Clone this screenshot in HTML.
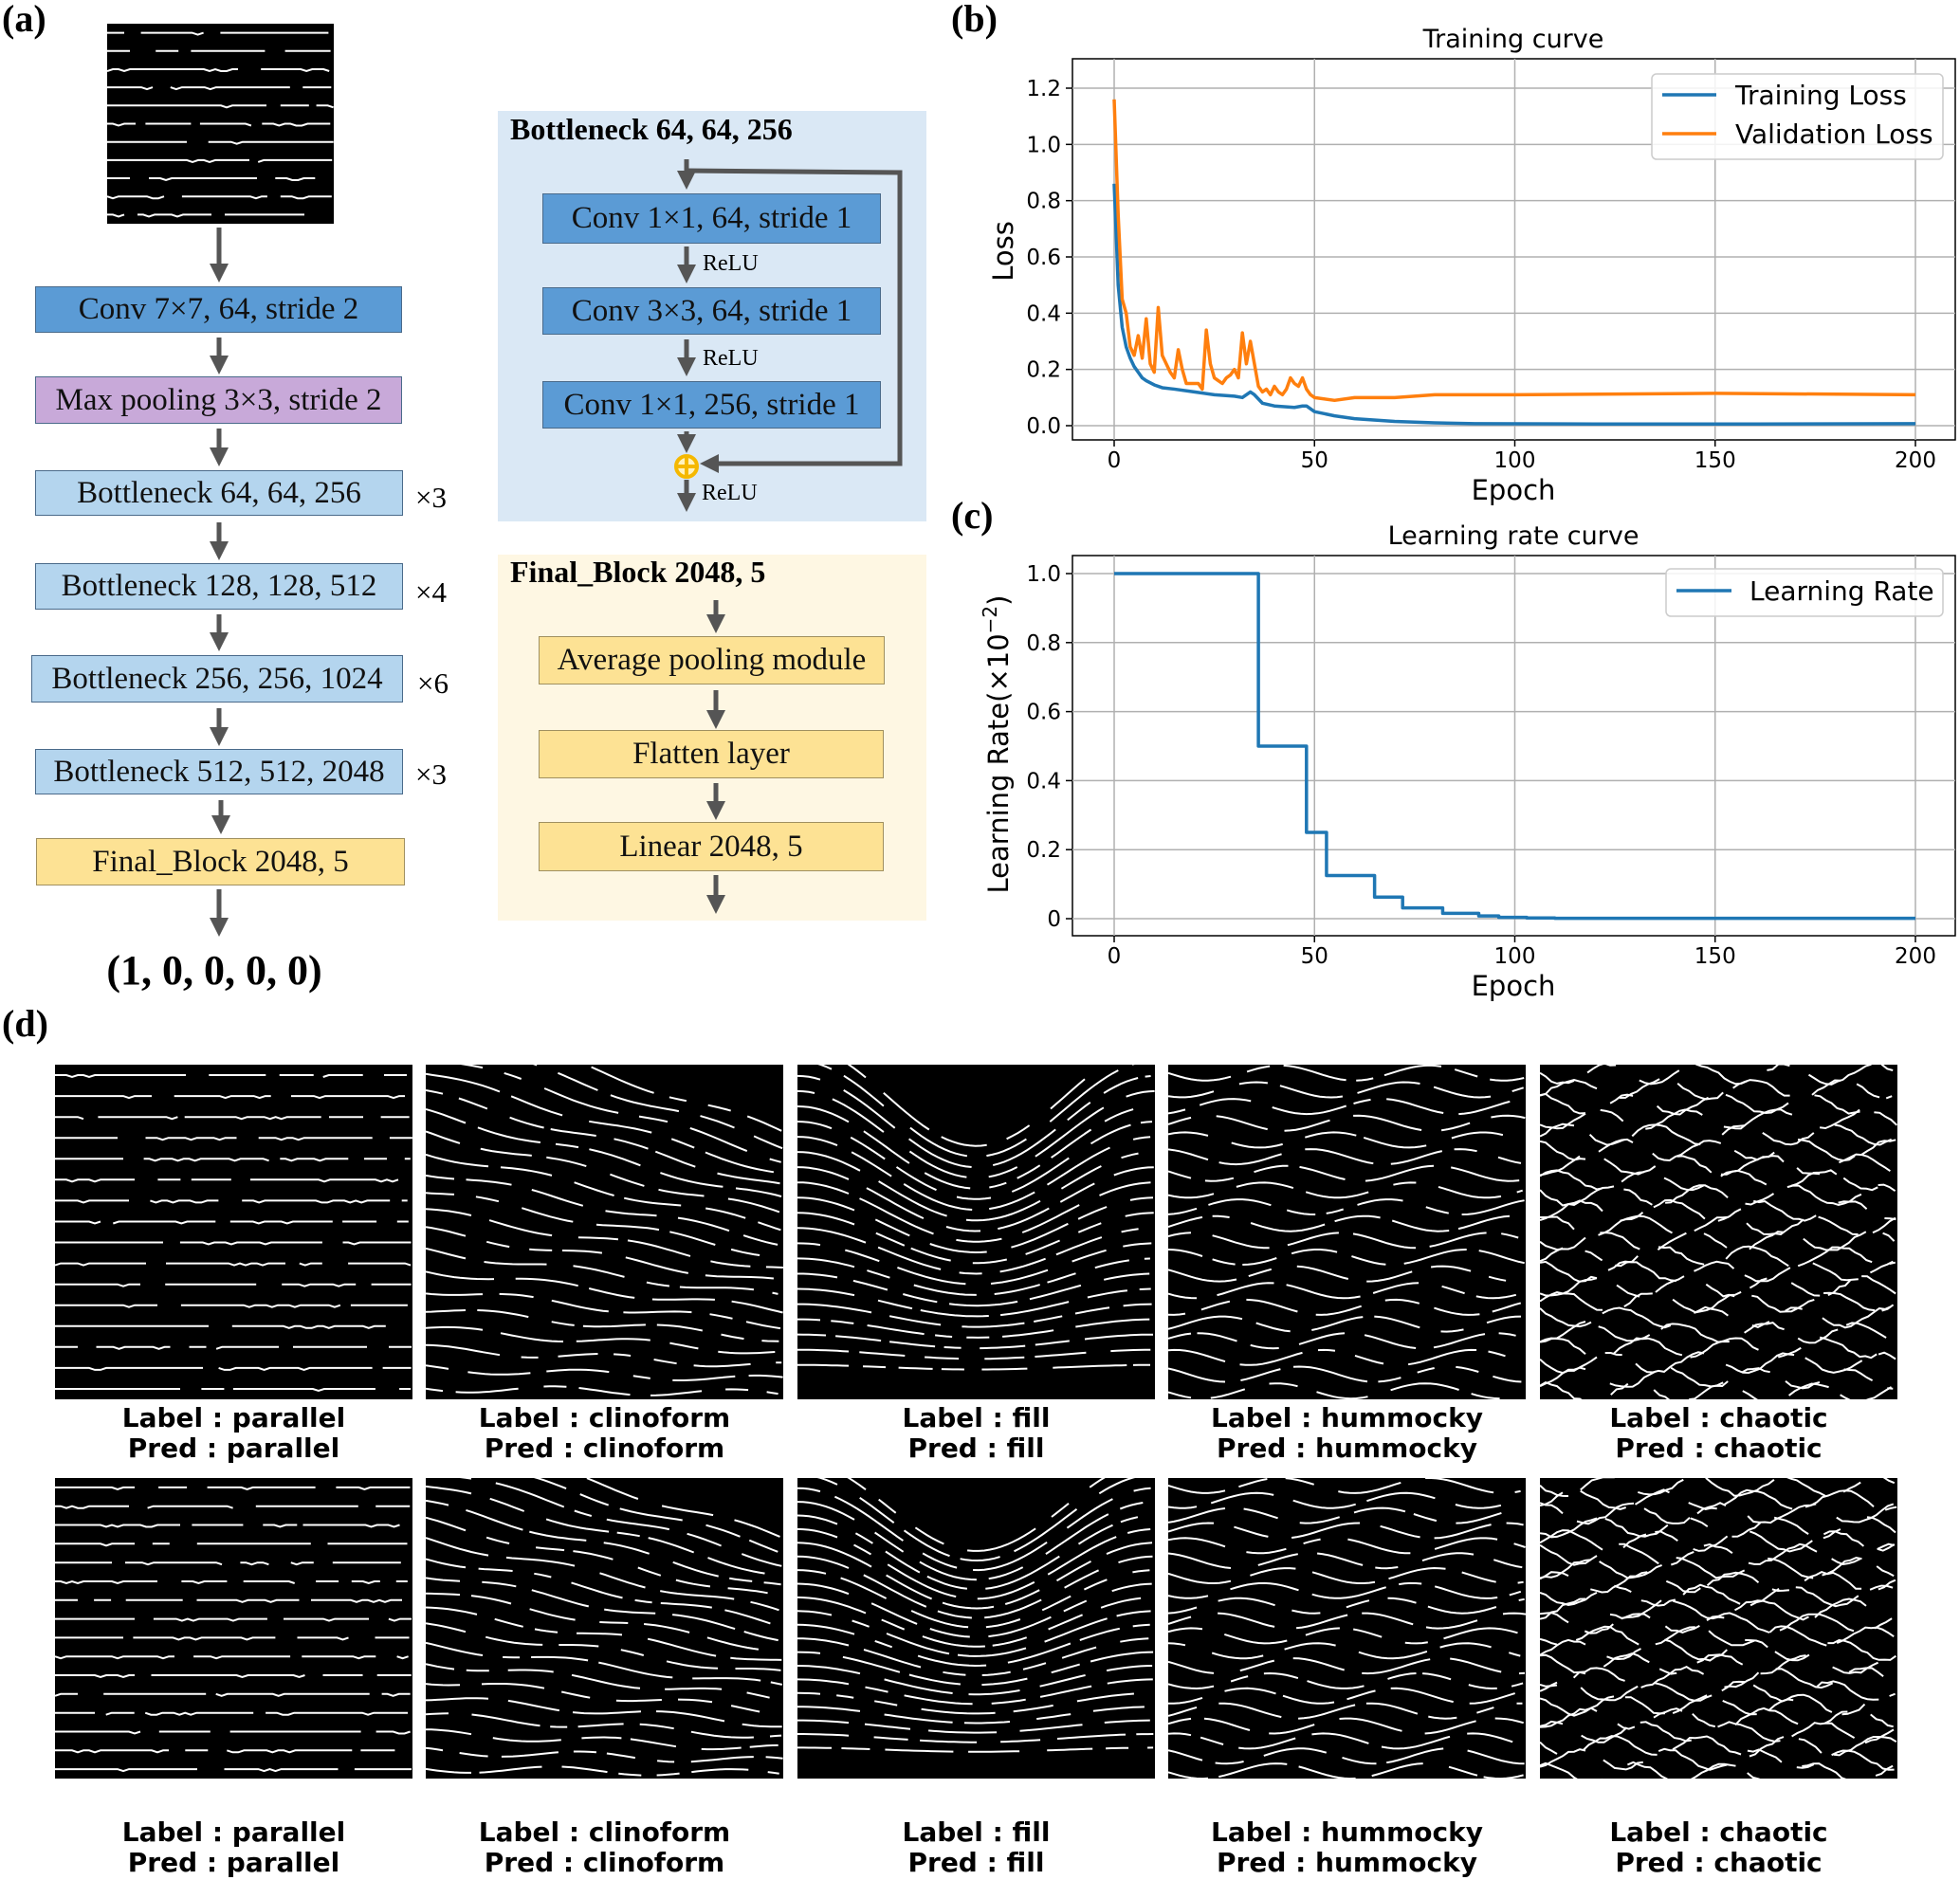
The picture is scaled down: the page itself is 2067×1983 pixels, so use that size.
<!DOCTYPE html>
<html><head><meta charset="utf-8">
<style>
body{margin:0;background:#fff;}
#root{position:relative;width:2067px;height:1983px;overflow:hidden;font-family:"Liberation Serif",serif;}
.abs{position:absolute;}
.box{position:absolute;border:1.5px solid #4a6a8a;box-sizing:border-box;display:flex;align-items:center;justify-content:center;font-size:33px;color:#111;font-family:"Liberation Serif",serif;white-space:nowrap;}
.dark{background:#5b9bd5;}
.light{background:#b4d5ee;}
.purple{background:#c8a9d9;}
.yellow{background:#fde294;border-color:#a09060;}
.plabel{position:absolute;font-weight:bold;font-size:40px;font-family:"Liberation Serif",serif;}
.times{position:absolute;font-size:31px;}
.relu{position:absolute;font-size:24px;}
.lbl{position:absolute;text-align:center;font-family:"DejaVu Sans",sans-serif;font-weight:bold;font-size:28px;line-height:32px;width:377px;}
</style></head><body>
<div id="root">
<div class="plabel" style="left:2px;top:-4px">(a)</div>
<div class="plabel" style="left:1003px;top:-4px">(b)</div>
<div class="plabel" style="left:1003px;top:520px">(c)</div>
<div class="plabel" style="left:2px;top:1056px">(d)</div>

<div class="abs" style="left:525px;top:117px;width:452px;height:433px;background:#dae8f5"></div>
<div class="abs" style="left:525px;top:585px;width:452px;height:386px;background:#fef7e3"></div>

<svg class="abs" style="left:0;top:0" width="1000" height="1060">
<defs><marker id="ah" markerWidth="4" markerHeight="4" refX="2" refY="2" orient="auto" markerUnits="strokeWidth"><path d="M0,0 L4,2 L0,4z" fill="#555"/></marker></defs>
<g stroke="#555" stroke-width="5" fill="none">
<line x1="231" y1="240" x2="231" y2="288" marker-end="url(#ah)"/>
<line x1="231" y1="356" x2="231" y2="385" marker-end="url(#ah)"/>
<line x1="231" y1="452" x2="231" y2="482" marker-end="url(#ah)"/>
<line x1="231" y1="551" x2="231" y2="581" marker-end="url(#ah)"/>
<line x1="231" y1="648" x2="231" y2="677" marker-end="url(#ah)"/>
<line x1="231" y1="747" x2="231" y2="777" marker-end="url(#ah)"/>
<line x1="233" y1="844" x2="233" y2="870" marker-end="url(#ah)"/>
<line x1="231" y1="938" x2="231" y2="978" marker-end="url(#ah)"/>
<line x1="724" y1="168" x2="724" y2="190" marker-end="url(#ah)"/>
<polyline points="724,180 949,182 949,489 748,489" marker-end="url(#ah)"/>
<line x1="724" y1="260" x2="724" y2="289" marker-end="url(#ah)"/>
<line x1="724" y1="358" x2="724" y2="387" marker-end="url(#ah)"/>
<line x1="724" y1="455" x2="724" y2="468" marker-end="url(#ah)"/>
<line x1="724" y1="506" x2="724" y2="530" marker-end="url(#ah)"/>
<line x1="755" y1="633" x2="755" y2="658" marker-end="url(#ah)"/>
<line x1="755" y1="728" x2="755" y2="759" marker-end="url(#ah)"/>
<line x1="755" y1="826" x2="755" y2="855" marker-end="url(#ah)"/>
<line x1="755" y1="923" x2="755" y2="954" marker-end="url(#ah)"/>
</g></svg>

<svg class="abs" style="left:113px;top:25px" width="239" height="211" id="topimg"></svg>

<div class="box dark" style="left:37px;top:302px;width:387px;height:49px">Conv 7×7, 64, stride 2</div>
<div class="box purple" style="left:37px;top:397px;width:387px;height:50px">Max pooling 3×3, stride 2</div>
<div class="box light" style="left:37px;top:496px;width:388px;height:48px">Bottleneck 64, 64, 256</div>
<div class="box light" style="left:37px;top:594px;width:388px;height:49px">Bottleneck 128, 128, 512</div>
<div class="box light" style="left:33px;top:691px;width:392px;height:50px">Bottleneck 256, 256, 1024</div>
<div class="box light" style="left:37px;top:790px;width:388px;height:48px">Bottleneck 512, 512, 2048</div>
<div class="box yellow" style="left:38px;top:884px;width:389px;height:50px">Final_Block 2048, 5</div>
<div class="times" style="left:438px;top:507px">×3</div>
<div class="times" style="left:438px;top:607px">×4</div>
<div class="times" style="left:440px;top:703px">×6</div>
<div class="times" style="left:438px;top:799px">×3</div>
<div class="abs" style="left:100px;top:998px;font-size:44px;font-weight:bold;width:252px;text-align:center">(1, 0, 0, 0, 0)</div>

<div class="abs" style="left:538px;top:118px;font-size:32px;font-weight:bold">Bottleneck 64, 64, 256</div>
<div class="box dark" style="left:572px;top:204px;width:357px;height:53px">Conv 1×1, 64, stride 1</div>
<div class="box dark" style="left:572px;top:303px;width:357px;height:50px">Conv 3×3, 64, stride 1</div>
<div class="box dark" style="left:572px;top:402px;width:357px;height:50px">Conv 1×1, 256, stride 1</div>
<div class="relu" style="left:741px;top:265px">ReLU</div>
<div class="relu" style="left:741px;top:365px">ReLU</div>
<div class="relu" style="left:740px;top:507px">ReLU</div>
<svg class="abs" style="left:708px;top:476px" width="32" height="32"><circle cx="16" cy="16" r="11" fill="#fff3c0" stroke="#f5b800" stroke-width="4"/><line x1="5" y1="16" x2="27" y2="16" stroke="#f5b800" stroke-width="4"/><line x1="16" y1="5" x2="16" y2="27" stroke="#f5b800" stroke-width="4"/></svg>

<div class="abs" style="left:538px;top:585px;font-size:32px;font-weight:bold">Final_Block 2048, 5</div>
<div class="box yellow" style="left:568px;top:671px;width:365px;height:51px">Average pooling module</div>
<div class="box yellow" style="left:568px;top:770px;width:364px;height:51px">Flatten layer</div>
<div class="box yellow" style="left:568px;top:867px;width:364px;height:52px">Linear 2048, 5</div>

<svg class="abs" style="left:1000px;top:0" width="1067" height="1070" id="charts" font-family="DejaVu Sans, sans-serif"></svg>
</div>

<script>
// ---- chart data ----
const lossTicks=[0,0.2,0.4,0.6,0.8,1.0,1.2];
const lossTickLabels=["0.0","0.2","0.4","0.6","0.8","1.0","1.2"];
const epochTicks=[0,50,100,150,200];
const trainEpochs=[0,1,2,3,4,5,6,7,8,10,12,15,20,25,30,32,34,35,37,40,45,47,48,50,55,60,70,80,90,120,160,200];
const trainLoss=[0.86,0.5,0.35,0.28,0.24,0.21,0.19,0.17,0.16,0.145,0.135,0.13,0.12,0.11,0.105,0.1,0.12,0.11,0.08,0.07,0.065,0.07,0.07,0.05,0.035,0.025,0.015,0.01,0.007,0.006,0.006,0.007];
const valEpochs=[0,1,2,3,4,5,6,7,8,9,10,11,12,13,14,15,16,17,18,19,20,21,22,23,24,25,26,27,28,29,30,31,32,33,34,35,36,37,38,39,40,41,42,43,44,45,46,47,48,49,50,55,60,70,80,100,150,200];
const valLoss=[1.16,0.75,0.45,0.40,0.28,0.25,0.32,0.24,0.38,0.22,0.19,0.42,0.25,0.22,0.19,0.17,0.27,0.2,0.15,0.15,0.15,0.15,0.13,0.34,0.22,0.17,0.16,0.15,0.17,0.18,0.2,0.17,0.33,0.22,0.3,0.22,0.14,0.12,0.13,0.11,0.14,0.12,0.11,0.13,0.17,0.15,0.14,0.17,0.13,0.11,0.1,0.09,0.1,0.1,0.11,0.11,0.115,0.11];
const lrTicks=[0,0.2,0.4,0.6,0.8,1.0];
const lrTickLabels=["0","0.2","0.4","0.6","0.8","1.0"];
const lrEpochs=[0,36,48,53,65,72,82,91,96,103,110,200];
const lrValues=[1.0,0.5,0.25,0.125,0.0625,0.03125,0.0156,0.0078,0.0039,0.002,0.001,0.001];

const NS="http://www.w3.org/2000/svg";
const svg=document.getElementById('charts');
function mk(tag,attrs,parent,text){const e=document.createElementNS(NS,tag);for(const k in attrs)e.setAttribute(k,attrs[k]);if(text!==undefined)e.textContent=text;(parent||svg).appendChild(e);return e;}
const X0=175,X1=1020;
function xs(e){return X0+(X1-X0)*e/200;}
function drawAxes(top,bot,yFn,yt,ytl,title,name){
  const L=131,R=1062;
  mk('rect',{x:L,y:top,width:R-L,height:bot-top,fill:'#fff',stroke:'#000','stroke-width':1.5});
  epochTicks.forEach(t=>{const x=xs(t);
    const g=mk('line',{x1:x,x2:x,y1:top,y2:bot,stroke:'#b0b0b0','stroke-width':1.5});
    
    mk('line',{x1:x,x2:x,y1:bot,y2:bot+7,stroke:'#000','stroke-width':1.5});
    const t2=mk('text',{x:x,y:bot+29,'text-anchor':'middle','font-size':23},null,String(t));
    });
  yt.forEach((t,i)=>{const y=yFn(t);
    const g=mk('line',{x1:L,x2:R,y1:y,y2:y,stroke:'#b0b0b0','stroke-width':1.5});
    
    mk('line',{x1:L-7,x2:L,y1:y,y2:y,stroke:'#000','stroke-width':1.5});
    const t2=mk('text',{x:L-12,y:y+8,'text-anchor':'end','font-size':23},null,ytl[i]);
    });
  const tt=mk('text',{x:596,y:top-12,'text-anchor':'middle','font-size':27},null,title);
  
  const xl=mk('text',{x:596,y:bot+63,'text-anchor':'middle','font-size':29},null,'Epoch');
  
}
function path(ex,ey,yFn,color,step){
  let d='';
  for(let i=0;i<ex.length;i++){
    const x=xs(ex[i]),y=yFn(ey[i]);
    if(i==0)d+='M'+x+','+y;
    else if(step){d+=' L'+x+','+yFn(ey[i-1])+' L'+x+','+y;}
    else d+=' L'+x+','+y;
  }
  return mk('path',{d:d,fill:'none',stroke:color,'stroke-width':3.5,'stroke-linejoin':'round'});
}
// chart b
const yb=v=>449-(449-93)*v/1.2;
drawAxes(62,464,yb,lossTicks,lossTickLabels,'Training curve','loss-chart');
const yl1=mk('text',{x:0,y:0,'text-anchor':'middle','font-size':29,transform:'translate(68,265) rotate(-90)'},null,'Loss');

const pt=path(trainEpochs,trainLoss,yb,'#1f77b4',false);

const pv=path(valEpochs,valLoss,yb,'#ff7f0e',false);

mk('rect',{x:742,y:78,width:307,height:90,rx:5,fill:'#fff','fill-opacity':0.85,stroke:'#ccc','stroke-width':1.5});
mk('line',{x1:753,x2:810,y1:100,y2:100,stroke:'#1f77b4','stroke-width':3.5});
const le1=mk('text',{x:830,y:110,'font-size':28},null,'Training Loss');

mk('line',{x1:753,x2:810,y1:141,y2:141,stroke:'#ff7f0e','stroke-width':3.5});
const le2=mk('text',{x:830,y:151,'font-size':28},null,'Validation Loss');

// chart c
const yc=v=>969-(969-605)*v/1.0;
drawAxes(586,987,yc,lrTicks,lrTickLabels,'Learning rate curve','lr-chart');
const yl2=mk('text',{x:0,y:0,'text-anchor':'middle','font-size':29,transform:'translate(63,785) rotate(-90)'});
yl2.innerHTML='Learning Rate(×10<tspan dy="-12" font-size="20">−2</tspan><tspan dy="12">)</tspan>';

const pl=path(lrEpochs,lrValues,yc,'#1f77b4',true);

mk('rect',{x:757,y:600,width:292,height:50,rx:5,fill:'#fff','fill-opacity':0.85,stroke:'#ccc','stroke-width':1.5});
mk('line',{x1:768,x2:826,y1:623,y2:623,stroke:'#1f77b4','stroke-width':3.5});
const le3=mk('text',{x:845,y:633,'font-size':28},null,'Learning Rate');


// ---- seismic texture images ----
let seed=7;function rnd(){seed=(seed*16807)%2147483647;return seed/2147483647;}
function texture(el,w,h,kind,n){
  el.setAttribute('style',el.getAttribute('style')+';background:#000');
  for(let i=0;i<n;i++){
    const base=(i+0.5)*h/n;let d='';let x=0;
    while(x<w){
      const len=20+rnd()*(kind==='parallel'?150:60);
      let pts=[];
      for(let xx=x;xx<Math.min(w,x+len);xx+=6){
        let y=base;
        if(kind==='fill')y=base+(h*0.3)*Math.pow(Math.sin(Math.PI*xx/w),2)*(1-i/n)-h*0.08;
        if(kind==='clinoform')y=base+(xx/w-0.5)*h*0.35*(1-i/n)+4*Math.sin(xx/30+i);
        if(kind==='hummocky')y=base+8*Math.sin(xx/25+i);
        if(kind==='chaotic')y=base+10*Math.sin(xx/15+i*2.3)+rnd()*3;
        if(kind==='parallel')y=base+(rnd()<0.08?2:0);
        pts.push(xx.toFixed(1)+','+y.toFixed(1));
      }
      if(pts.length>1)d+='M'+pts.join(' L');
      x+=len+6+rnd()*18;
    }
    const p=document.createElementNS(NS,'path');p.setAttribute('d',d);p.setAttribute('stroke','#fff');p.setAttribute('stroke-width',2);p.setAttribute('fill','none');el.appendChild(p);
  }
}
texture(document.getElementById('topimg'),239,211,'parallel',11);
const kinds=['parallel','clinoform','fill','hummocky','chaotic'];
const counts=[16,20,22,20,22];
const colX=[58,449,841,1232,1624];
const rowY=[1123,1559],rowH=[353,317],lblY=[1480,1917];
const root=document.getElementById('root');
rowY.forEach((ry,r)=>kinds.forEach((k,c)=>{
  const s=document.createElementNS(NS,'svg');
  s.setAttribute('class','abs');s.setAttribute('style','left:'+colX[c]+'px;top:'+ry+'px');
  s.setAttribute('width',377);s.setAttribute('height',rowH[r]);
  
  
  root.appendChild(s);texture(s,377,rowH[r],k,counts[c]);
  const d=document.createElement('div');d.className='lbl';
  d.style.left=colX[c]+'px';d.style.top=lblY[r]+'px';
  d.innerHTML='Label : '+k+'<br>Pred : '+k;
  
  
  root.appendChild(d);
}));
</script>
</body></html>
